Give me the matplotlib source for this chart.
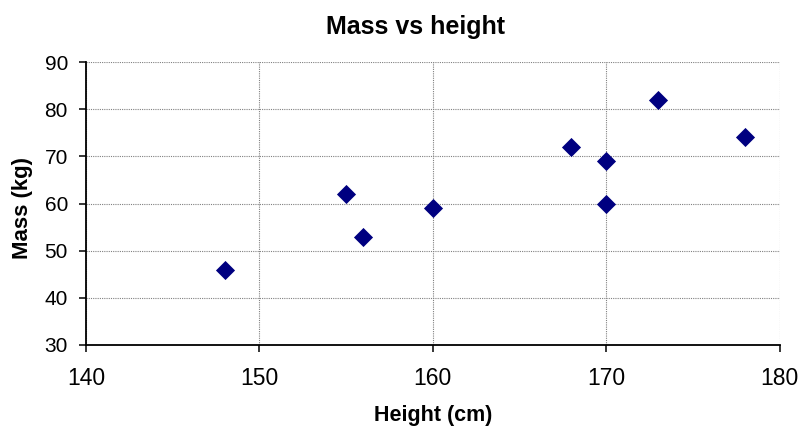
import matplotlib.pyplot as plt

# height (cm) and mass (kg) of each person
heights = [148, 155, 156, 160, 168, 170, 170, 173, 178]
masses = [46, 62, 53, 59, 72, 69, 60, 82, 74]

x_ticks = [140, 150, 160, 170, 180]
y_ticks = [30, 40, 50, 60, 70, 80, 90]

plt.rcParams['font.family'] = ['Liberation Sans', 'DejaVu Sans']

fig = plt.figure(figsize=(7.98, 4.30), dpi=100)
ax = fig.add_axes([86 / 798, 85 / 430, 693.5 / 798, 283 / 430])

ax.scatter(heights, masses, marker='D', s=95, color='#000080', zorder=5, linewidths=0)

ax.set_xlim(140, 180)
ax.set_ylim(30, 90)
ax.set_xticks(x_ticks)
ax.set_yticks(y_ticks)

# dotted grey gridlines, solid left/bottom axes
ax.grid(True, color='#808080', linestyle=(0, (1, 1)), linewidth=0.8, zorder=0)
ax.spines['top'].set_visible(False)
ax.spines['right'].set_visible(False)
ax.spines['left'].set_linewidth(1.3)
ax.spines['bottom'].set_linewidth(1.3)
ax.tick_params(direction='out', length=5, width=1.1)
ax.tick_params(axis='y', labelsize=15, pad=8)
ax.tick_params(axis='x', labelsize=16.5, pad=11)
for lbl in ax.get_xticklabels():
    lbl.set_family(['Liberation Sans Narrow', 'Liberation Sans'])

fig.text(415.5 / 798, 1 - 27 / 430, 'Mass vs height', fontsize=18, fontweight='bold',
         ha='center', va='center')
ax.set_xlabel('Height (cm)', fontsize=15.5, fontweight='bold', labelpad=11)
ax.set_ylabel('Mass (kg)', fontsize=16, fontweight='bold')
ax.yaxis.set_label_coords(-0.076, 0.485)

fig.savefig('out.png', dpi=100)
